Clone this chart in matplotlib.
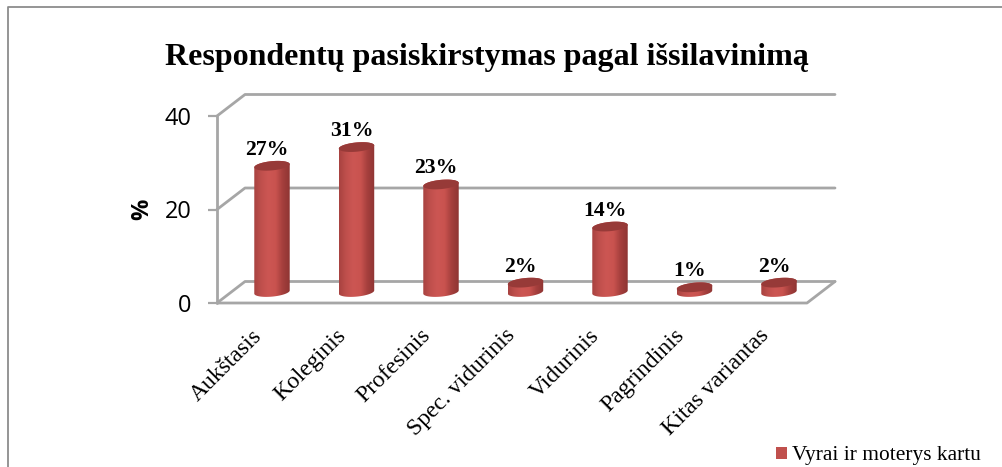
import numpy as np
import matplotlib
matplotlib.use("Agg")
import matplotlib.pyplot as plt
from matplotlib.patches import Polygon, Rectangle
from matplotlib.colors import LinearSegmentedColormap

categories = ["Aukštasis", "Koleginis", "Profesinis", "Spec. vidurinis", "Vidurinis", "Pagrindinis", "Kitas variantas"]
values = [27, 31, 23, 2, 14, 1, 2]
labels = ["27%", "31%", "23%", "2%", "14%", "1%", "2%"]
yticks = [0, 20, 40]
title = "Respondentų pasiskirstymas pagal išsilavinimą"
legend_label = "Vyrai ir moterys kartu"
ylabel = "%"

W, H = 1002, 467
fig = plt.figure(figsize=(W / 100, H / 100), dpi=100)
SERIF = "Liberation Serif"
GRAY = "#a6a6a6"

# pixel helpers for the figure (y measured from the top)
def fx(px): return px / W
def fy(py): return 1 - py / H

# front plane axes
L, R, T, B = 217, 807, 116, 303
ax = fig.add_axes([fx(L), fy(B), (R - L) / W, (B - T) / H])
sx = 84.5
sy = (B - T) / 40
ax.set_xlim((L - 272) / sx, (R - 272) / sx)
ax.set_ylim(0, 40)
ax.patch.set_alpha(0)
for s in ax.spines.values():
    s.set_visible(False)
ax.set_yticks(yticks)
ax.set_yticklabels([str(v) for v in yticks], fontsize=17, family="Open Sans", color="black")
ax.tick_params(axis="y", length=6.5, width=1.6, color=GRAY, pad=12)
ax.set_xticks(range(len(categories)))
ax.set_xticklabels(categories, rotation=45, ha="right", rotation_mode="anchor",
                   fontsize=17, family=SERIF, color="black")
ax.tick_params(axis="x", length=0, pad=16)
for lab in ax.get_xticklabels():
    lab.set_transform(lab.get_transform() + matplotlib.transforms.ScaledTranslation(-21 / 100, 0, fig.dpi_scale_trans))

# depth of the 3-D box, in data units
dx = 28 / sx
dy = 21.5 / sy
xl, xr = ax.get_xlim()
xback_r = xr + dx + 0.0

def line(xs, ys, lw=2.0):
    ax.plot(xs, ys, color=GRAY, lw=lw, clip_on=False, solid_capstyle="round", solid_joinstyle="round", zorder=1)

for v in yticks:
    line([xl, xl + dx, xback_r], [v, v + dy, v + dy])
line([xl, xl], [0, 40])
line([xl, xr, xback_r], [0, 0, dy])

# cylinders
cmap = LinearSegmentedColormap.from_list("cyl", ["#a84240", "#c0504d", "#cc5653", "#c9534f", "#a53f3d", "#8f3533"])
base_off = 11 / sy
a, b = 17.8, 4.6
tilt = np.deg2rad(5.5)

def ell(xc, yc, t):
    ex = a * np.cos(t) * np.cos(tilt) - b * np.sin(t) * np.sin(tilt)
    ey = a * np.cos(t) * np.sin(tilt) + b * np.sin(t) * np.cos(tilt)
    return xc + ex / sx, yc + ey / sy

for i, v in enumerate(values):
    y0 = base_off
    y1 = base_off + v
    ta = np.linspace(0, np.pi, 60)
    tb = np.linspace(np.pi, 2 * np.pi, 60)
    xt, yt = ell(i, y1, ta)
    xb, yb = ell(i, y0, tb)
    body = Polygon(np.c_[np.r_[xt, xb], np.r_[yt, yb]], closed=True, fc="none", ec="none", zorder=3)
    ax.add_patch(body)
    grad = np.linspace(0, 1, 64).reshape(1, -1)
    im = ax.imshow(grad, cmap=cmap, aspect="auto", zorder=3,
                   extent=[i - a / sx, i + a / sx, y0 - 2, y1 + 2], clip_on=True)
    im.set_clip_path(body)
    xc, yc = ell(i, y1, np.linspace(0, 2 * np.pi, 80))
    ax.add_patch(Polygon(np.c_[xc, yc], closed=True, fc="#973a38", ec="none", zorder=4))
    ax.annotate(labels[i], (i, y1), xytext=(-5 * 0.72, 16 * 0.72), textcoords="offset points",
                ha="center", va="center", fontsize=15.7, fontweight="bold", family=SERIF,
                color="black", zorder=5, annotation_clip=False)
ax.set_xlim(xl, xr)
ax.set_ylim(0, 40)

# y-axis title
fig.text(fx(142), fy(209), ylabel, rotation=90, ha="center", va="center", fontsize=17,
         fontweight="bold", family="Open Sans", color="black")
# title
fig.text(fx(486.5), fy(58), title, ha="center", va="center", fontsize=23, fontweight="bold",
         family=SERIF, color="black")
# legend
fig.patches.append(Rectangle((fx(776), fy(459)), 11 / W, 12 / H, transform=fig.transFigure,
                             fc="#c0504d", ec="none"))
fig.text(fx(792), fy(455.5), legend_label, ha="left", va="center", fontsize=15.4, family=SERIF, color="black")

# chart frame
FRAME = "#8c8c8c"
fig.add_artist(plt.Line2D([fx(8), fx(8), fx(1002)], [0, fy(6.5), fy(6.5)], transform=fig.transFigure,
                          color=FRAME, lw=1.3))
fig.savefig("out.png", dpi=100)
